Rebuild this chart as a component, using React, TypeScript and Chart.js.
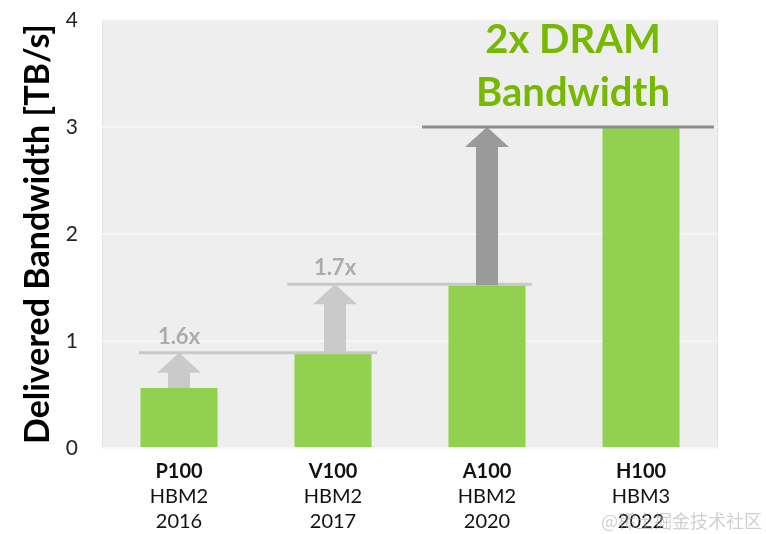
import React, { useEffect, useRef } from 'react';
import { Chart, registerables } from 'chart.js';

Chart.register(...registerables);

const gpus = ['P100', 'V100', 'A100', 'H100'];
const memTypes = ['HBM2', 'HBM2', 'HBM2', 'HBM3'];
const years = ['2016', '2017', '2020', '2022'];
const bandwidth = [0.56, 0.88, 1.52, 3.0];
const stepLevels = [0.89, 1.53, 3.0];
const stepLabels = ['1.6x', '1.7x', ''];
const headline = ['2x DRAM', 'Bandwidth'];
const yTitle = 'Delivered Bandwidth [TB/s]';
const watermark = '@稀土掘金技术社区';

const FONT = 'Lato, "Open Sans", sans-serif';

const overlayPlugin = {
  id: 'overlay',
  beforeDraw(chart: any) {
    const { ctx, chartArea } = chart;
    ctx.save();
    ctx.fillStyle = '#eeeeee';
    ctx.fillRect(chartArea.left, chartArea.top, chartArea.right - chartArea.left, chartArea.bottom - chartArea.top);
    ctx.strokeStyle = '#e2e2e2';
    ctx.lineWidth = 1;
    ctx.strokeRect(chartArea.left + 0.5, chartArea.top + 0.5, chartArea.right - chartArea.left - 1, chartArea.bottom - chartArea.top - 1);
    ctx.restore();
  },
  afterDatasetsDraw(chart: any) {
    const { ctx } = chart;
    const x = chart.scales.x;
    const y = chart.scales.y;
    const meta = chart.getDatasetMeta(0);
    ctx.save();

    const lineOffsets = [
      [-40, 44],
      [-46, 45],
      [-65, 73],
    ];
    const lineColors = ['#c9c9c9', '#c9c9c9', '#8e8e8e'];
    const arrowColors = ['#cacaca', '#cacaca', '#9a9a9a'];
    const arrowShift = [0, 2, 0];
    stepLevels.forEach((lvl, i) => {
      const c0 = x.getPixelForValue(i);
      const c1 = x.getPixelForValue(i + 1);
      const ly = y.getPixelForValue(lvl);
      const barTop = meta.data[i].y;
      const ax = c0 + arrowShift[i];
      const shaftW = 22, headW = 44, headH = 20;
      ctx.fillStyle = arrowColors[i];
      ctx.beginPath();
      ctx.moveTo(ax - shaftW / 2, barTop);
      ctx.lineTo(ax - shaftW / 2, ly + headH);
      ctx.lineTo(ax - headW / 2, ly + headH);
      ctx.lineTo(ax, ly);
      ctx.lineTo(ax + headW / 2, ly + headH);
      ctx.lineTo(ax + shaftW / 2, ly + headH);
      ctx.lineTo(ax + shaftW / 2, barTop);
      ctx.closePath();
      ctx.fill();
      ctx.strokeStyle = lineColors[i];
      ctx.lineWidth = 3;
      ctx.beginPath();
      ctx.moveTo(c0 + lineOffsets[i][0], ly);
      ctx.lineTo(c1 + lineOffsets[i][1], ly);
      ctx.stroke();
      if (stepLabels[i]) {
        ctx.fillStyle = '#ababab';
        ctx.font = `bold 22px ${FONT}`;
        ctx.textAlign = 'center';
        ctx.textBaseline = 'alphabetic';
        ctx.fillText(stepLabels[i], ax, ly - 9);
      }
    });

    ctx.fillStyle = '#76b900';
    ctx.font = `bold 40px ${FONT}`;
    ctx.textAlign = 'center';
    ctx.textBaseline = 'alphabetic';
    ctx.fillText(headline[0], 573, 53);
    ctx.fillText(headline[1], 573, 106);

    ctx.fillStyle = '#111111';
    gpus.forEach((g, i) => {
      const cx = x.getPixelForValue(i);
      ctx.font = `bold 20px ${FONT}`;
      ctx.fillText(g, cx, 478);
      ctx.font = `20px ${FONT}`;
      ctx.fillText(memTypes[i], cx, 503);
      ctx.fillText(years[i], cx, 528);
    });

    ctx.fillStyle = 'rgba(170,170,170,0.55)';
    ctx.font = `18px "Noto Sans CJK SC", sans-serif`;
    ctx.textAlign = 'right';
    ctx.fillText(watermark, 762, 528);
    ctx.restore();
  },
};

export default function App() {
  const ref = useRef<HTMLCanvasElement>(null);
  useEffect(() => {
    if (!ref.current) return;
    const chart = new Chart(ref.current, {
      type: 'bar',
      data: {
        labels: gpus,
        datasets: [
          {
            data: bandwidth,
            backgroundColor: '#92d050',
            barPercentage: 0.5,
            categoryPercentage: 1,
          },
        ],
      },
      options: {
        responsive: false,
        animation: false,
        layout: { padding: { top: 20, right: 48, bottom: 86, left: 0 } },
        plugins: { legend: { display: false }, tooltip: { enabled: false } },
        scales: {
          x: {
            ticks: { display: false },
            grid: { display: false },
            border: { display: false },
            afterFit: (s: any) => {
              s.height = 0;
            },
          },
          y: {
            min: 0,
            max: 4,
            ticks: { stepSize: 1, padding: 3, color: '#222222', font: { family: FONT, size: 21 } },
            grid: { color: '#f6f6f6', lineWidth: 2, drawTicks: true, tickLength: 21, tickColor: 'rgba(0,0,0,0)' },
            border: { display: false },
            title: {
              display: true,
              text: yTitle,
              color: '#000000',
              font: { family: FONT, size: 34, weight: 'bold' },
              padding: { top: 18, bottom: 0 },
            },
            afterFit: (s: any) => {
              s.width = 102;
            },
          },
        },
      },
      plugins: [overlayPlugin],
    });
    return () => chart.destroy();
  }, []);
  return (
    <div style={{ position: 'absolute', left: 0, top: 0, width: 766, height: 534, background: '#ffffff' }}>
      <canvas ref={ref} width={766} height={534} style={{ display: 'block' }} />
    </div>
  );
}
